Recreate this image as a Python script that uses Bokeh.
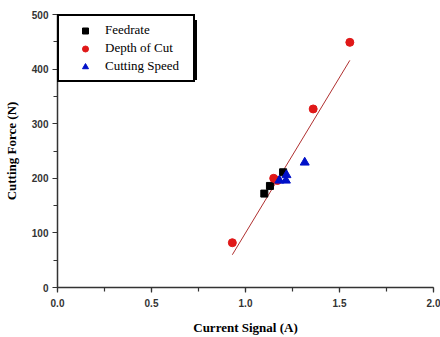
from bokeh.plotting import figure
from bokeh.models import SingleIntervalTicker, PrintfTickFormatter, Legend, LegendItem, BoxAnnotation, Range1d
from bokeh.embed import file_html
from bokeh.resources import INLINE

feed_x = [1.10, 1.13, 1.20]
feed_y = [172, 186, 211]
doc_x = [0.93, 1.15, 1.17, 1.36, 1.555]
doc_y = [82, 200, 196, 327, 449]
speed_x = [1.18, 1.215, 1.218, 1.315]
speed_y = [196, 196, 206, 229]
fit_x = [0.93, 1.555]
fit_y = [60, 416]

p = figure(width=440, height=337, output_backend="svg", toolbar_location=None,
           x_range=Range1d(0, 2.0), y_range=Range1d(0, 500),
           min_border_left=57, min_border_right=7, min_border_top=14, min_border_bottom=46)
p.outline_line_color = None
p.xgrid.visible = False
p.ygrid.visible = False
p.background_fill_color = "white"
p.border_fill_color = "white"

# legend shadow
shadow = BoxAnnotation(left=0.03, right=0.742, top=490, bottom=380,
                       fill_color="black", fill_alpha=1.0, line_color=None, level="underlay")
p.add_layout(shadow)

r_fit = p.line(fit_x, fit_y, line_color="#b03030", line_width=1)
r_feed = p.scatter(feed_x, feed_y, marker="square", size=7, fill_color="black", line_color="black")
r_doc = p.scatter(doc_x, doc_y, marker="circle", size=8, fill_color="#e01818", line_color="#e01818")
r_speed = p.scatter(speed_x, speed_y, marker="triangle", size=9, fill_color="#0010c8", line_color="#0010c8")

legend = Legend(items=[LegendItem(label="Feedrate", renderers=[r_feed]),
                       LegendItem(label="Depth of Cut", renderers=[r_doc]),
                       LegendItem(label="Cutting Speed", renderers=[r_speed])],
                location="top_left", margin=0, padding=6, spacing=2,
                glyph_width=40, glyph_height=15, label_standoff=0, label_height=15,
                label_width=82,
                label_text_font="Liberation Serif", label_text_font_size="13px",
                label_text_color="black",
                border_line_color="black", border_line_width=2, border_line_alpha=1.0,
                background_fill_color="white", background_fill_alpha=1.0)
p.add_layout(legend)

for ax in (p.xaxis[0], p.yaxis[0]):
    ax.axis_line_color = "#333333"
    ax.axis_line_width = 1.5
    ax.major_tick_line_color = "#333333"
    ax.minor_tick_line_color = "#333333"
    ax.major_tick_line_width = 1.2
    ax.minor_tick_line_width = 1.2
    ax.major_tick_in = 0
    ax.major_tick_out = 5
    ax.minor_tick_in = 0
    ax.minor_tick_out = 4
    ax.major_label_text_font = "Liberation Sans"
    ax.major_label_text_font_style = "bold"
    ax.major_label_text_font_size = "10px"
    ax.major_label_text_color = "#333333"
    ax.axis_label_text_font = "Liberation Serif"
    ax.axis_label_text_font_style = "bold"
    ax.axis_label_text_font_size = "13px"
    ax.axis_label_text_color = "black"

p.xaxis[0].ticker = SingleIntervalTicker(interval=0.5, num_minor_ticks=2)
p.xaxis[0].formatter = PrintfTickFormatter(format="%.1f")
p.yaxis[0].ticker = SingleIntervalTicker(interval=100, num_minor_ticks=2)
p.xaxis[0].axis_label = "Current Signal (A)"
p.yaxis[0].axis_label = "Cutting Force (N)"
p.xaxis[0].major_label_standoff = 6
p.xaxis[0].axis_label_standoff = 10
p.yaxis[0].major_label_standoff = 4
p.yaxis[0].axis_label_standoff = 10

open("out.html", "w").write(file_html(p, INLINE))
